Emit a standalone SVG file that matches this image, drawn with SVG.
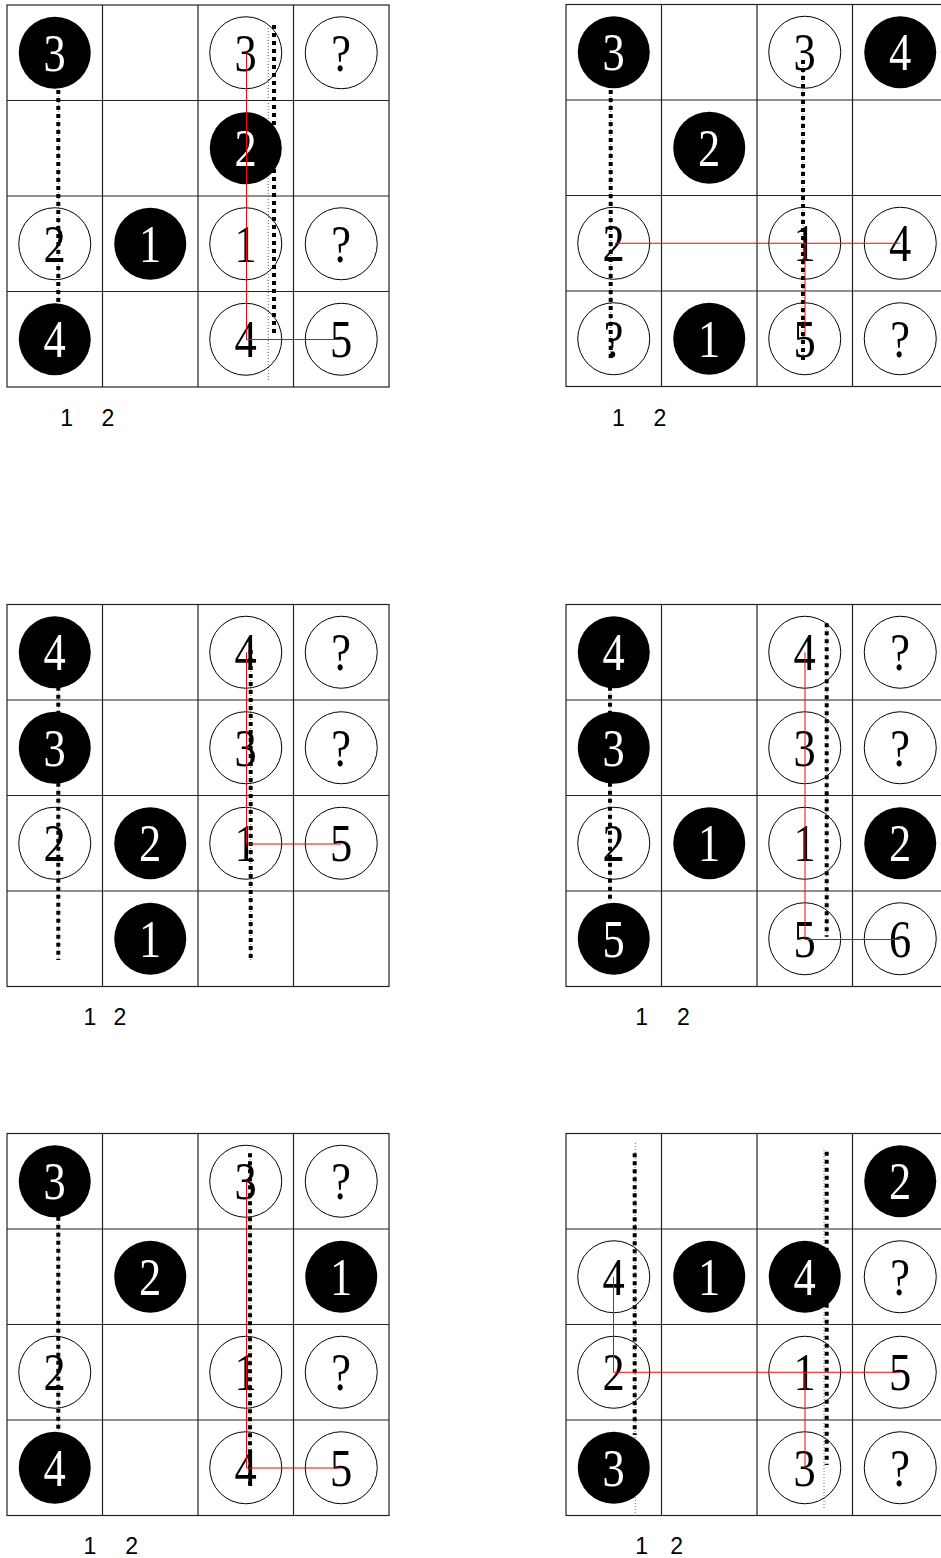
<svg xmlns="http://www.w3.org/2000/svg" width="941" height="1558" viewBox="0 0 941 1558">
<defs>
<style>
.grid{fill:none;stroke:#222;stroke-width:1.2}
.b{fill:#000}
.w{fill:none;stroke:#000;stroke-width:1}
.tb,.tw{font-family:"Liberation Serif",serif;font-size:53px;text-anchor:middle;transform-box:fill-box;transform-origin:center;transform:scaleX(0.84)}
.tb{fill:#fff}
.tw{fill:#000}
.thick{fill:none;stroke:#000;stroke-width:4;stroke-dasharray:4 4}
.thin{fill:none;stroke:#666;stroke-width:1;stroke-dasharray:1 2}
.red{fill:none;stroke:#f00;stroke-width:1}
.lbl{font-family:"Liberation Sans",sans-serif;font-size:23px;text-anchor:middle;fill:#000}
</style>
<g id="gridshape">
<rect class="grid" x="0" y="0" width="382" height="382"/>
<path class="grid" d="M95.5 0V382M191 0V382M286.5 0V382M0 95.5H382M0 191H382M0 286.5H382"/>
</g>
</defs>

<!-- Panel 1 -->
<g id="panel1" transform="translate(7,5)">
<use href="#gridshape"/>
<g id="p1-connectors">
<path class="thin" d="M51.3 85V297M261.3 23V377"/>
<path class="thick" d="M51.3 85V297M267 20V332"/>
</g>
<g id="p1-n1"><circle class="b" cx="47.75" cy="47.75" r="36"/><text class="tb" x="47.75" y="65.75">3</text></g>
<g id="p1-n2"><circle class="w" cx="238.75" cy="47.75" r="36"/><text class="tw" x="238.75" y="65.75">3</text></g>
<g id="p1-n3"><circle class="w" cx="334.25" cy="47.75" r="36"/><text class="tw" x="334.25" y="65.75">?</text></g>
<g id="p1-n4"><circle class="b" cx="238.75" cy="143.25" r="36"/><text class="tb" x="238.75" y="161.25">2</text></g>
<g id="p1-n5"><circle class="w" cx="47.75" cy="238.75" r="36"/><text class="tw" x="47.75" y="256.75">2</text></g>
<g id="p1-n6"><circle class="b" cx="143.25" cy="238.75" r="36"/><text class="tb" x="143.25" y="256.75">1</text></g>
<g id="p1-n7"><circle class="w" cx="238.75" cy="238.75" r="36"/><text class="tw" x="238.75" y="256.75">1</text></g>
<g id="p1-n8"><circle class="w" cx="334.25" cy="238.75" r="36"/><text class="tw" x="334.25" y="256.75">?</text></g>
<g id="p1-n9"><circle class="b" cx="47.75" cy="334.25" r="36"/><text class="tb" x="47.75" y="352.25">4</text></g>
<g id="p1-n10"><circle class="w" cx="238.75" cy="334.25" r="36"/><text class="tw" x="238.75" y="352.25">4</text></g>
<g id="p1-n11"><circle class="w" cx="334.25" cy="334.25" r="36"/><text class="tw" x="334.25" y="352.25">5</text></g>
<g id="p1-path"><path class="red" d="M239.5 47.75V334.5H334.25"/></g>
<text class="lbl" x="59.7" y="421">1</text><text class="lbl" x="101" y="421">2</text>
</g>

<!-- Panel 2 -->
<g id="panel2" transform="translate(566,4.5)">
<use href="#gridshape"/>
<g id="p2-connectors">
<path class="thin" d="M44.7 85.5V355.5M237 55.5V355.5"/>
<path class="thick" d="M44.7 85.5V355.5M237 55.5V355.5"/>
</g>
<g id="p2-n1"><circle class="b" cx="47.75" cy="47.75" r="36"/><text class="tb" x="47.75" y="65.75">3</text></g>
<g id="p2-n2"><circle class="w" cx="238.75" cy="47.75" r="36"/><text class="tw" x="238.75" y="65.75">3</text></g>
<g id="p2-n3"><circle class="b" cx="334.25" cy="47.75" r="36"/><text class="tb" x="334.25" y="65.75">4</text></g>
<g id="p2-n4"><circle class="b" cx="143.25" cy="143.25" r="36"/><text class="tb" x="143.25" y="161.25">2</text></g>
<g id="p2-n5"><circle class="w" cx="47.75" cy="238.75" r="36"/><text class="tw" x="47.75" y="256.75">2</text></g>
<g id="p2-n6"><circle class="w" cx="238.75" cy="238.75" r="36"/><text class="tw" x="238.75" y="256.75">1</text></g>
<g id="p2-n7"><circle class="w" cx="334.25" cy="238.75" r="36"/><text class="tw" x="334.25" y="256.75">4</text></g>
<g id="p2-n8"><circle class="w" cx="47.75" cy="334.25" r="36"/><text class="tw" x="47.75" y="352.25">?</text></g>
<g id="p2-n9"><circle class="b" cx="143.25" cy="334.25" r="36"/><text class="tb" x="143.25" y="352.25">1</text></g>
<g id="p2-n10"><circle class="w" cx="238.75" cy="334.25" r="36"/><text class="tw" x="238.75" y="352.25">5</text></g>
<g id="p2-n11"><circle class="w" cx="334.25" cy="334.25" r="36"/><text class="tw" x="334.25" y="352.25">?</text></g>
<g id="p2-path"><path class="red" d="M49 238.75H334.25M239 238.75V332"/></g>
<text class="lbl" x="52.3" y="421.5">1</text><text class="lbl" x="94" y="421.5">2</text>
</g>

<!-- Panel 3 -->
<g id="panel3" transform="translate(7,604.5)">
<use href="#gridshape"/>
<g id="p3-connectors">
<path class="thin" d="M51.3 82.2V355.5M243.7 45.5V355.5"/>
<path class="thick" d="M51.3 82.2V355.5M243.7 45.5V355.5"/>
</g>
<g id="p3-n1"><circle class="b" cx="47.75" cy="47.75" r="36"/><text class="tb" x="47.75" y="65.75">4</text></g>
<g id="p3-n2"><circle class="w" cx="238.75" cy="47.75" r="36"/><text class="tw" x="238.75" y="65.75">4</text></g>
<g id="p3-n3"><circle class="w" cx="334.25" cy="47.75" r="36"/><text class="tw" x="334.25" y="65.75">?</text></g>
<g id="p3-n4"><circle class="b" cx="47.75" cy="143.25" r="36"/><text class="tb" x="47.75" y="161.25">3</text></g>
<g id="p3-n5"><circle class="w" cx="238.75" cy="143.25" r="36"/><text class="tw" x="238.75" y="161.25">3</text></g>
<g id="p3-n6"><circle class="w" cx="334.25" cy="143.25" r="36"/><text class="tw" x="334.25" y="161.25">?</text></g>
<g id="p3-n7"><circle class="w" cx="47.75" cy="238.75" r="36"/><text class="tw" x="47.75" y="256.75">2</text></g>
<g id="p3-n8"><circle class="b" cx="143.25" cy="238.75" r="36"/><text class="tb" x="143.25" y="256.75">2</text></g>
<g id="p3-n9"><circle class="w" cx="238.75" cy="238.75" r="36"/><text class="tw" x="238.75" y="256.75">1</text></g>
<g id="p3-n10"><circle class="w" cx="334.25" cy="238.75" r="36"/><text class="tw" x="334.25" y="256.75">5</text></g>
<g id="p3-n11"><circle class="b" cx="143.25" cy="334.25" r="36"/><text class="tb" x="143.25" y="352.25">1</text></g>
<g id="p3-path"><path class="red" d="M239.5 47.75V239.5H334.25"/></g>
<text class="lbl" x="83" y="420.5">1</text><text class="lbl" x="113" y="420.5">2</text>
</g>

<!-- Panel 4 -->
<g id="panel4" transform="translate(566,604.5)">
<use href="#gridshape"/>
<g id="p4-connectors">
<path class="thin" d="M44 82.2V297.2M260.7 18.8V332.2"/>
<path class="thick" d="M44 82.2V297.2M260.7 18.8V332.2"/>
</g>
<g id="p4-n1"><circle class="b" cx="47.75" cy="47.75" r="36"/><text class="tb" x="47.75" y="65.75">4</text></g>
<g id="p4-n2"><circle class="w" cx="238.75" cy="47.75" r="36"/><text class="tw" x="238.75" y="65.75">4</text></g>
<g id="p4-n3"><circle class="w" cx="334.25" cy="47.75" r="36"/><text class="tw" x="334.25" y="65.75">?</text></g>
<g id="p4-n4"><circle class="b" cx="47.75" cy="143.25" r="36"/><text class="tb" x="47.75" y="161.25">3</text></g>
<g id="p4-n5"><circle class="w" cx="238.75" cy="143.25" r="36"/><text class="tw" x="238.75" y="161.25">3</text></g>
<g id="p4-n6"><circle class="w" cx="334.25" cy="143.25" r="36"/><text class="tw" x="334.25" y="161.25">?</text></g>
<g id="p4-n7"><circle class="w" cx="47.75" cy="238.75" r="36"/><text class="tw" x="47.75" y="256.75">2</text></g>
<g id="p4-n8"><circle class="b" cx="143.25" cy="238.75" r="36"/><text class="tb" x="143.25" y="256.75">1</text></g>
<g id="p4-n9"><circle class="w" cx="238.75" cy="238.75" r="36"/><text class="tw" x="238.75" y="256.75">1</text></g>
<g id="p4-n10"><circle class="b" cx="334.25" cy="238.75" r="36"/><text class="tb" x="334.25" y="256.75">2</text></g>
<g id="p4-n11"><circle class="b" cx="47.75" cy="334.25" r="36"/><text class="tb" x="47.75" y="352.25">5</text></g>
<g id="p4-n12"><circle class="w" cx="238.75" cy="334.25" r="36"/><text class="tw" x="238.75" y="352.25">5</text></g>
<g id="p4-n13"><circle class="w" cx="334.25" cy="334.25" r="36"/><text class="tw" x="334.25" y="352.25">6</text></g>
<g id="p4-path"><path class="red" d="M239 47.75V335H334.25"/></g>
<text class="lbl" x="75.7" y="420.5">1</text><text class="lbl" x="117.3" y="420.5">2</text>
</g>

<!-- Panel 5 -->
<g id="panel5" transform="translate(7,1133.5)">
<use href="#gridshape"/>
<g id="p5-connectors">
<path class="thin" d="M51.3 83.2V298.2M243 19.8V351.5"/>
<path class="thick" d="M51.3 83.2V298.2M243 19.8V351.5"/>
</g>
<g id="p5-n1"><circle class="b" cx="47.75" cy="47.75" r="36"/><text class="tb" x="47.75" y="65.75">3</text></g>
<g id="p5-n2"><circle class="w" cx="238.75" cy="47.75" r="36"/><text class="tw" x="238.75" y="65.75">3</text></g>
<g id="p5-n3"><circle class="w" cx="334.25" cy="47.75" r="36"/><text class="tw" x="334.25" y="65.75">?</text></g>
<g id="p5-n4"><circle class="b" cx="143.25" cy="143.25" r="36"/><text class="tb" x="143.25" y="161.25">2</text></g>
<g id="p5-n5"><circle class="b" cx="334.25" cy="143.25" r="36"/><text class="tb" x="334.25" y="161.25">1</text></g>
<g id="p5-n6"><circle class="w" cx="47.75" cy="238.75" r="36"/><text class="tw" x="47.75" y="256.75">2</text></g>
<g id="p5-n7"><circle class="w" cx="238.75" cy="238.75" r="36"/><text class="tw" x="238.75" y="256.75">1</text></g>
<g id="p5-n8"><circle class="w" cx="334.25" cy="238.75" r="36"/><text class="tw" x="334.25" y="256.75">?</text></g>
<g id="p5-n9"><circle class="b" cx="47.75" cy="334.25" r="36"/><text class="tb" x="47.75" y="352.25">4</text></g>
<g id="p5-n10"><circle class="w" cx="238.75" cy="334.25" r="36"/><text class="tw" x="238.75" y="352.25">4</text></g>
<g id="p5-n11"><circle class="w" cx="334.25" cy="334.25" r="36"/><text class="tw" x="334.25" y="352.25">5</text></g>
<g id="p5-path"><path class="red" d="M239.5 47.75V334.5H334.25"/></g>
<text class="lbl" x="83" y="420">1</text><text class="lbl" x="124.7" y="420">2</text>
</g>

<!-- Panel 6 -->
<g id="panel6" transform="translate(566,1133.5)">
<use href="#gridshape"/>
<g id="p6-connectors">
<path class="thin" d="M69.3 9.5V379.5M258 16.5V374.5"/>
<path class="thick" d="M68.7 19.8V301.5M260.7 18.2V331.5"/>
</g>
<g id="p6-n1"><circle class="b" cx="334.25" cy="47.75" r="36"/><text class="tb" x="334.25" y="65.75">2</text></g>
<g id="p6-n2"><circle class="w" cx="47.75" cy="143.25" r="36"/><text class="tw" x="47.75" y="161.25">4</text></g>
<g id="p6-n3"><circle class="b" cx="143.25" cy="143.25" r="36"/><text class="tb" x="143.25" y="161.25">1</text></g>
<g id="p6-n4"><circle class="b" cx="238.75" cy="143.25" r="36"/><text class="tb" x="238.75" y="161.25">4</text></g>
<g id="p6-n5"><circle class="w" cx="334.25" cy="143.25" r="36"/><text class="tw" x="334.25" y="161.25">?</text></g>
<g id="p6-n6"><circle class="w" cx="47.75" cy="238.75" r="36"/><text class="tw" x="47.75" y="256.75">2</text></g>
<g id="p6-n7"><circle class="w" cx="238.75" cy="238.75" r="36"/><text class="tw" x="238.75" y="256.75">1</text></g>
<g id="p6-n8"><circle class="w" cx="334.25" cy="238.75" r="36"/><text class="tw" x="334.25" y="256.75">5</text></g>
<g id="p6-n9"><circle class="b" cx="47.75" cy="334.25" r="36"/><text class="tb" x="47.75" y="352.25">3</text></g>
<g id="p6-n10"><circle class="w" cx="238.75" cy="334.25" r="36"/><text class="tw" x="238.75" y="352.25">3</text></g>
<g id="p6-n11"><circle class="w" cx="334.25" cy="334.25" r="36"/><text class="tw" x="334.25" y="352.25">?</text></g>
<g id="p6-path"><path class="red" d="M47.5 143.25V238.75H334.25M239 238.75V334.5"/></g>
<text class="lbl" x="75.7" y="420">1</text><text class="lbl" x="110.7" y="420">2</text>
</g>
</svg>
